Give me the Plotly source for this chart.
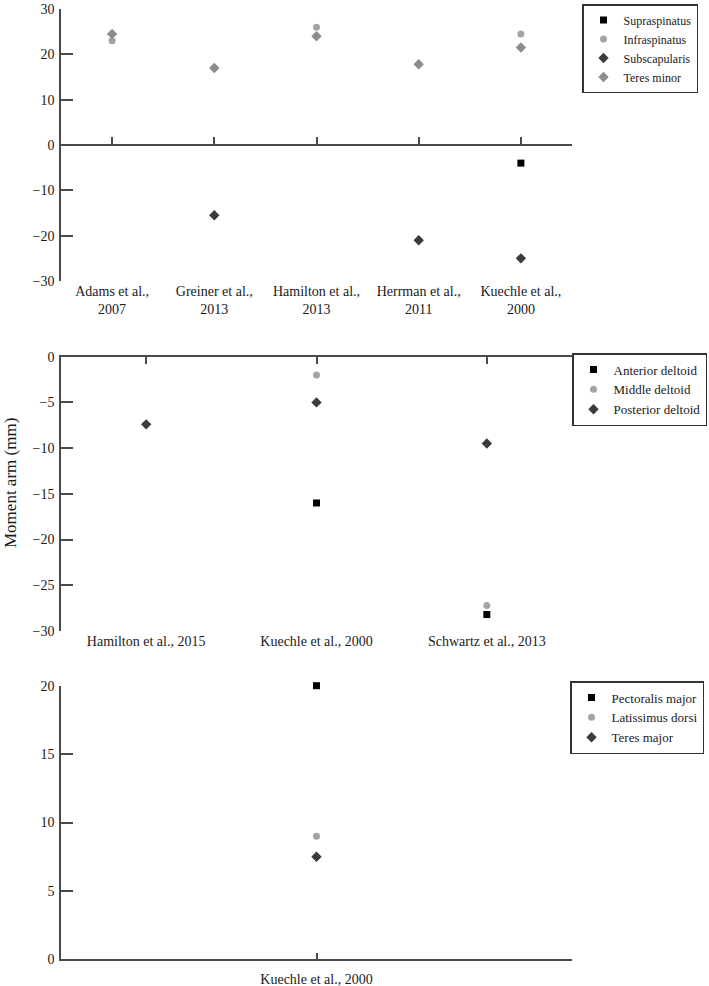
import plotly.graph_objects as go

# ---------------- data ----------------
rc_studies = ["Adams et al.,<br>2007", "Greiner et al.,<br>2013", "Hamilton et al.,<br>2013",
              "Herrman et al.,<br>2011", "Kuechle et al.,<br>2000"]
supraspinatus = [None, None, None, None, -4]
infraspinatus = [23, 17, 26, None, 24.5]
subscapularis = [None, -15.5, None, -21, -25]
teres_minor = [24.5, 17, 24, 17.8, 21.5]

delt_studies = ["Hamilton et al., 2015", "Kuechle et al., 2000", "Schwartz et al., 2013"]
anterior_deltoid = [None, -16, -28.2]
middle_deltoid = [None, -2, -27.2]
posterior_deltoid = [-7.4, -5, -9.5]

pec_studies = ["Kuechle et al., 2000"]
pectoralis_major = [20]
latissimus_dorsi = [9]
teres_major = [7.5]

# ---------------- styling ----------------
FONT = "Liberation Serif"
AX = "#4a4a4a"
BLACK = "#000000"
LIGHT = "#a3a3a3"
DARK = "#3b3b3b"
MID = "#8c8c8c"

W, H = 709, 986
def fy(px):
    return 1 - px / H

xdom = [61 / W, 572 / W]
d1 = [fy(281), fy(9)]
d2 = [fy(631), fy(356.7)]
d3 = [fy(959.3), fy(685.7)]

fig = go.Figure()

def add(ys, name, symbol, color, size, xa, ya, legend):
    pts = [(i, v) for i, v in enumerate(ys) if v is not None]
    fig.add_trace(go.Scatter(
        x=[p[0] for p in pts], y=[p[1] for p in pts], mode="markers", name=name,
        marker=dict(symbol=symbol, color=color, size=size, line=dict(width=0)),
        xaxis=xa, yaxis=ya, legend=legend, cliponaxis=False))

SQ, CI, DI = 7, 7, 8
add(supraspinatus, "Supraspinatus", "square", BLACK, SQ, "x", "y", "legend")
add(infraspinatus, "Infraspinatus", "circle", LIGHT, CI, "x", "y", "legend")
add(subscapularis, "Subscapularis", "diamond", DARK, DI, "x", "y", "legend")
add(teres_minor, "Teres minor", "diamond", MID, DI, "x", "y", "legend")

add(anterior_deltoid, "Anterior deltoid", "square", BLACK, SQ, "x2", "y2", "legend2")
add(middle_deltoid, "Middle deltoid", "circle", LIGHT, CI, "x2", "y2", "legend2")
add(posterior_deltoid, "Posterior deltoid", "diamond", DARK, DI, "x2", "y2", "legend2")

add(pectoralis_major, "Pectoralis major", "square", BLACK, SQ, "x3", "y3", "legend3")
add(latissimus_dorsi, "Latissimus dorsi", "circle", LIGHT, CI, "x3", "y3", "legend3")
add(teres_major, "Teres major", "diamond", DARK, DI, "x3", "y3", "legend3")

# dummy traces for overlay (zero-line) axes
fig.add_trace(go.Scatter(x=[], y=[], xaxis="x4", yaxis="y", showlegend=False, hoverinfo="skip"))
fig.add_trace(go.Scatter(x=[], y=[], xaxis="x5", yaxis="y2", showlegend=False, hoverinfo="skip"))

tickfont = dict(family=FONT, size=14, color="#1a1a1a")

def yax(dom, rng, dtick, anchor):
    return dict(domain=dom, range=rng, dtick=dtick, tick0=0, anchor=anchor,
                showline=True, linecolor=AX, linewidth=1.6, ticks="inside", ticklen=12,
                tickwidth=1.6, tickcolor=AX, showgrid=False, zeroline=False,
                tickfont=tickfont, ticklabelstandoff=2, automargin=False)

def xlab(dom, n, labels, anchor, standoff=0, line=False):
    return dict(domain=dom, range=[-0.5, n - 0.5], anchor=anchor, tickmode="array",
                tickvals=list(range(n)), ticktext=labels, showgrid=False, zeroline=False,
                showline=line, linecolor=AX, linewidth=1.6,
                ticks="inside" if line else "", ticklen=7, tickwidth=1.6, tickcolor=AX,
                tickfont=tickfont, ticklabelstandoff=standoff, automargin=False)

y0_pos = d1[0] + (0 - (-30)) / 60 * (d1[1] - d1[0])

legend_common = dict(bordercolor="#333", borderwidth=1.5, bgcolor="white",
                     xanchor="right", yanchor="top", tracegroupgap=0, itemwidth=30)

fig.update_layout(
    width=W, height=H, margin=dict(l=0, r=0, t=0, b=0, autoexpand=False),
    plot_bgcolor="white", paper_bgcolor="white",
    font=dict(family=FONT, color="#1a1a1a"),
    xaxis=xlab(xdom, len(rc_studies), rc_studies, "y"),
    yaxis=yax(d1, [-30, 30], 10, "x"),
    xaxis2=xlab(xdom, len(delt_studies), delt_studies, "y2"),
    yaxis2=yax(d2, [-30, 0], 5, "x2"),
    xaxis3=xlab(xdom, len(pec_studies), pec_studies, "y3", standoff=6, line=True),
    yaxis3=yax(d3, [0, 20], 5, "x3"),
    xaxis4=dict(overlaying="x", anchor="free", position=y0_pos, domain=xdom,
                range=[-0.5, len(rc_studies) - 0.5], tickmode="array",
                tickvals=list(range(len(rc_studies))), showticklabels=False,
                showline=True, linecolor=AX, linewidth=1.6, ticks="inside", ticklen=7,
                tickwidth=1.6, tickcolor=AX, showgrid=False, zeroline=False),
    xaxis5=dict(overlaying="x2", anchor="y2", side="top", domain=xdom,
                range=[-0.5, len(delt_studies) - 0.5], tickmode="array",
                tickvals=list(range(len(delt_studies))), showticklabels=False,
                showline=True, linecolor=AX, linewidth=1.6, ticks="inside", ticklen=7,
                tickwidth=1.6, tickcolor=AX, showgrid=False, zeroline=False),
    legend=dict(x=698 / W, y=fy(4), font=dict(family=FONT, size=12, color="#1a1a1a"), **legend_common),
    legend2=dict(x=707 / W, y=fy(353), font=dict(family=FONT, size=13, color="#1a1a1a"), **legend_common),
    legend3=dict(x=704 / W, y=fy(681), font=dict(family=FONT, size=13, color="#1a1a1a"), **legend_common),
    annotations=[dict(text="Moment arm (mm)", textangle=-90, x=10 / W, y=fy(483),
                      xref="paper", yref="paper", xanchor="center", yanchor="middle",
                      showarrow=False, font=dict(family=FONT, size=17, color="#1a1a1a"))],
    showlegend=True,
)

fig.write_html("out.html", config={"displayModeBar": False},
               post_script="document.body.style.margin='0px';")
